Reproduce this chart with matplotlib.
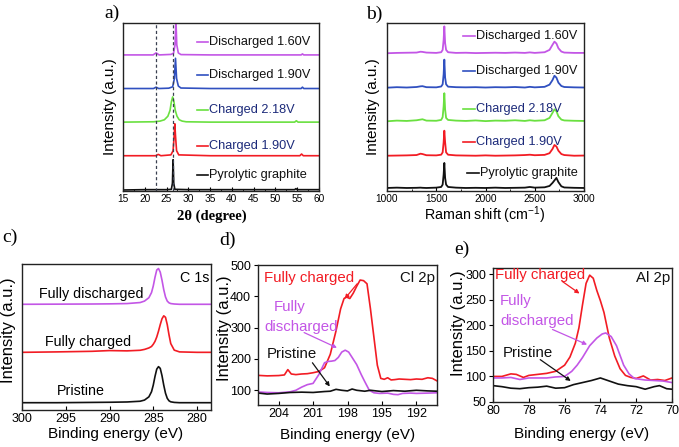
import numpy as np
import matplotlib
matplotlib.use("Agg")
from matplotlib import pyplot as plt

plt.rcParams['font.family'] = ['Liberation Sans', 'DejaVu Sans']
plt.rcParams['mathtext.fontset'] = 'custom'
plt.rcParams['mathtext.rm'] = 'Liberation Sans'

W, H = 679, 447

RED = "#f21c24"
VIOLET = "#c356e6"
BLUE = "#3050c0"
GREEN = "#6ae040"
BLACK = "#111111"
NAVY = "#1c2a7a"

# ---- a) XRD ----
xrd_labels = ["Pyrolytic graphite", "Charged 1.90V", "Charged 2.18V", "Discharged 1.90V", "Discharged 1.60V"]
xrd_pg_x = [15, 20, 25, 26.1, 26.35, 26.5, 26.65, 26.9, 30, 40, 54.4, 54.7, 55.0, 60]
xrd_pg_y = [0, 0.002, 0.002, 0.004, 0.04, 0.18, 0.04, 0.004, 0.002, 0.002, 0.002, 0.008, 0.002, 0.002]
xrd_c190_x = [15, 22.5, 23.1, 23.7, 26.0, 26.5, 26.75, 26.9, 27.05, 27.3, 27.8, 35, 55.6, 56.0, 56.4, 60]
xrd_c190_y = [0, 0, 0.008, 0, 0.005, 0.03, 0.12, 0.19, 0.12, 0.03, 0.005, 0, 0, 0.01, 0, 0]
xrd_c218_x = [15, 22, 23.5, 24.5, 25.3, 25.8, 26.1, 26.4, 26.7, 27.0, 27.4, 27.9, 28.6, 29.5, 35, 54.4, 54.8, 55.2, 60]
xrd_c218_y = [0, 0.002, 0.006, 0.014, 0.035, 0.07, 0.12, 0.15, 0.12, 0.07, 0.035, 0.014, 0.006, 0.002, 0, 0, 0.008, 0, 0]
xrd_d190_x = [15, 22.0, 22.6, 23.2, 25.5, 26.4, 26.8, 27.05, 27.3, 27.7, 28.3, 35, 55.9, 56.2, 56.5, 60]
xrd_d190_y = [0, 0, 0.008, 0, 0.002, 0.01, 0.06, 0.18, 0.06, 0.015, 0.003, 0, 0, 0.008, 0, 0]
xrd_d160_x = [15, 21.9, 22.6, 23.3, 26.0, 26.6, 26.95, 27.15, 27.35, 27.7, 28.3, 35, 55.9, 56.2, 56.5, 60]
xrd_d160_y = [0, 0, 0.012, 0, 0.003, 0.01, 0.06, 0.21, 0.06, 0.012, 0.002, 0, 0, 0.006, 0, 0]
xrd_dash = [22.6, 26.5]

# ---- b) Raman ----
raman_x = [1000, 1100, 1200, 1300, 1340, 1360, 1400, 1500, 1550, 1565, 1575, 1582, 1590, 1600, 1620, 1700,
           1800, 1900, 2000, 2100, 2200, 2300, 2400, 2450, 2500, 2600, 2650, 2680, 2700, 2720, 2740, 2770,
           2800, 2900, 3000]
raman_pg = [0, .002, 0, .001, .002, .001, 0, .002, .006, .02, .08, .149, .06, .02, .006, .002, 0, .001, 0,
            .002, 0, .001, .002, .006, .002, .004, .012, .03, .045, .06, .035, .01, .003, .001, 0]
raman_c190 = [0, .001, .002, .004, .012, .01, .003, .002, .006, .02, .08, .149, .08, .02, .006, .002, .001,
              0, .002, 0, .001, .002, .004, .006, .003, .005, .015, .04, .064, .055, .03, .01, .004, 0, .001]
raman_c218 = [0, .004, .002, .006, .01, .012, .004, .003, .008, .025, .09, .167, .07, .02, .008, .004, .002,
              .005, .001, .004, .003, .006, .002, .006, .003, .006, .02, .05, .071, .06, .03, .01, .005, .003, .002]
raman_d190 = [0, .003, .001, .004, .008, .009, .003, .002, .007, .02, .08, .167, .06, .02, .006, .003, .002,
              .003, .001, .003, .002, .004, .001, .005, .002, .005, .018, .045, .071, .06, .03, .01, .004, .002, .001]
raman_d160 = [0, .002, .003, .004, .009, .008, .004, .002, .006, .02, .08, .16, .06, .02, .006, .002, .003,
              .001, .002, .003, .002, .004, .002, .005, .002, .006, .02, .05, .069, .058, .03, .01, .004, .002, .002]

# ---- c) C 1s ----
c1s_x = [300, 296, 292, 290, 288, 286.5, 286, 285.5, 285.2, 285, 284.8, 284.6, 284.4, 284.2, 284.0, 283.8,
         283.6, 283.4, 283.2, 283.0, 282.6, 282, 280, 278]
c1s_pristine = [0, 0, 0.002, 0.003, 0.005, 0.01, 0.018, 0.04, 0.075, 0.12, 0.18, 0.23, 0.247, 0.235, 0.185,
                0.12, 0.065, 0.03, 0.013, 0.006, 0.002, 0, 0, 0]
c1s_charged = [0, 0.003, 0.007, 0.012, 0.01, 0.014, 0.02, 0.03, 0.04, 0.055, 0.075, 0.105, 0.145, 0.19, 0.23,
               0.25, 0.24, 0.19, 0.12, 0.06, 0.015, 0.003, 0, 0]
c1s_discharged = [0, 0.001, 0.002, 0.003, 0.005, 0.012, 0.022, 0.045, 0.08, 0.125, 0.185, 0.235, 0.245, 0.22,
                  0.165, 0.1, 0.05, 0.022, 0.01, 0.005, 0.002, 0, 0, 0]

# ---- d) Cl 2p ----
cl_ch_x = [206, 205, 204, 203.5, 203.2, 202.9, 202.5, 202, 201.5, 201, 200.5, 200, 199.5, 199, 198.6, 198.3,
           198.1, 197.8, 197.5, 197.2, 196.9, 196.6, 196.3, 196, 195.7, 195.4, 195.1, 194.8, 194.5, 194.2,
           193.9, 193.5, 193, 192.5, 192, 191.5, 191, 190.6, 190.2]
cl_ch_y = [148, 146, 147, 149, 166, 152, 150, 152, 153, 156, 160, 172, 215, 290, 360, 393, 398, 393, 410, 432,
           452, 450, 440, 360, 270, 180, 138, 135, 140, 133, 134, 136, 135, 134, 136, 135, 140, 138, 130]
cl_dis_x = [206, 205, 204, 203, 202.5, 202, 201.5, 201, 200.5, 200, 199.7, 199.4, 199.1, 198.8, 198.5, 198.2,
            197.9, 197.6, 197.2, 196.8, 196.5, 196.1, 195.7, 195.2, 194.5, 194, 193.6, 193.2, 192.5, 192, 191, 190.2]
cl_dis_y = [95, 93, 92, 95, 100, 110, 118, 122, 150, 188, 192, 193, 195, 205, 222, 228, 222, 205, 182, 150,
            128, 100, 92, 90, 91, 87, 86, 90, 91, 90, 91, 92]
cl_pr_x = [206, 205, 204, 203, 202, 201, 200, 199.5, 199, 198.5, 198, 197.6, 197.2, 196.5, 196, 195, 194, 193,
           192, 191, 190.2]
cl_pr_y = [92, 88, 90, 93, 94, 93, 96, 97, 103, 100, 98, 104, 100, 97, 100, 96, 99, 97, 100, 98, 97]

# ---- e) Al 2p ----
al_ch_x = [80, 79.5, 79.0, 78.7, 78.3, 78.0, 77.5, 77.0, 76.5, 76.0, 75.7, 75.4, 75.2, 75.0, 74.8, 74.6, 74.4,
           74.2, 74.0, 73.8, 73.5, 73.2, 72.9, 72.6, 72.3, 72.0, 71.6, 71.2, 70.8, 70.4, 70]
al_ch_y = [100, 100, 105, 104, 98, 102, 104, 106, 110, 122, 138, 165, 195, 240, 282, 298, 292, 268, 248, 225,
           175, 140, 115, 102, 98, 96, 101, 93, 94, 92, 97]
al_dis_x = [80, 79.5, 79, 78.5, 78, 77.5, 77, 76.5, 76, 75.6, 75.3, 75.0, 74.6, 74.2, 73.9, 73.7, 73.4, 73.1,
            72.7, 72.4, 72.1, 71.5, 71, 70.5, 70]
al_dis_y = [97, 97, 98, 94, 97, 97, 97, 99, 100, 110, 122, 137, 160, 175, 183, 185, 178, 160, 122, 105, 96, 93,
            92, 91, 88]
al_pr_x = [80, 79.5, 79, 78.5, 78, 77.5, 77, 76.5, 76, 75.5, 75, 74.5, 74, 73.5, 73, 72.5, 72, 71.5, 71, 70.7,
           70.3, 70]
al_pr_y = [82, 80, 77, 76, 78, 79, 81, 77, 78, 84, 88, 92, 97, 91, 85, 82, 80, 75, 80, 82, 76, 75]


def box(x0, y0, x1, y1):
    return [x0 / W, 1 - y1 / H, (x1 - x0) / W, (y1 - y0) / H]


def ftext(x, y, s, **kw):
    fig.text(x / W, 1 - y / H, s, ha='center', va='center', **kw)


def style(ax, size):
    for s in ax.spines.values():
        s.set_linewidth(1.0)
        s.set_color('#222222')
    ax.tick_params(labelsize=size, direction='in', length=3, width=0.8, pad=2)
    ax.tick_params(which='minor', direction='in', length=1.8, width=0.6)


def stack_label(ax, fx, fy, text, line_color, text_color, seg=0.06):
    ax.plot([fx, fx + seg], [fy, fy], color=line_color, lw=1.2, transform=ax.transAxes)
    ax.text(fx + seg + 0.005, fy, text, color=text_color, fontsize=9.2,
            ha='left', va='center', transform=ax.transAxes)


fig = plt.figure(figsize=(W / 100, H / 100), dpi=100)

# a)
ax = fig.add_axes(box(123, 23, 319, 191))
style(ax, 7.3)
offs = [0.006, 0.21, 0.41, 0.61, 0.81]
series = [(xrd_pg_x, xrd_pg_y, BLACK), (xrd_c190_x, xrd_c190_y, RED), (xrd_c218_x, xrd_c218_y, GREEN),
          (xrd_d190_x, xrd_d190_y, BLUE), (xrd_d160_x, xrd_d160_y, VIOLET)]
for (xs, ys, c), o in zip(series, offs):
    ax.plot(xs, np.array(ys) + o, color=c, lw=1.2)
for xd in xrd_dash:
    ax.axvline(xd, color='#3a4050', lw=0.9, ls=(0, (2.5, 2)))
ax.set_xlim(15, 60)
ax.set_ylim(0, 1)
ax.set_xticks(np.arange(15, 61, 5))
ax.set_xticks(np.arange(15, 61, 2.5), minor=True)
ax.set_yticks([])
lab_y = [0.095, 0.268, 0.48, 0.69, 0.885]
lab_tc = [BLACK, NAVY, NAVY, BLACK, BLACK]
for (xs, ys, c), t, fy, tc in zip(series, xrd_labels, lab_y, lab_tc):
    stack_label(ax, 0.375, fy, t, c, tc)

# b)
ax = fig.add_axes(box(387, 23, 584, 191))
style(ax, 7.3)
boffs = [0.018, 0.21, 0.415, 0.615, 0.82]
bseries = [(raman_pg, BLACK), (raman_c190, RED), (raman_c218, GREEN), (raman_d190, BLUE), (raman_d160, VIOLET)]
for (ys, c), o in zip(bseries, boffs):
    ax.plot(raman_x, np.array(ys) + o, color=c, lw=1.3)
ax.set_xlim(1000, 3000)
ax.set_ylim(0, 1)
ax.set_xticks([1000, 1500, 2000, 2500, 3000])
ax.set_xticks(np.arange(1000, 3001, 250), minor=True)
ax.set_yticks([])
blab_y = [0.11, 0.29, 0.49, 0.715, 0.925]
blab_x = [0.405, 0.386, 0.386, 0.386, 0.386]
for (ys, c), t, fy, fx, tc in zip(bseries, xrd_labels, blab_y, blab_x, lab_tc):
    stack_label(ax, fx, fy, t, c, tc)

# c)
ax = fig.add_axes(box(22, 264, 211, 410))
style(ax, 9)
for ys, c, o in [(c1s_pristine, BLACK, 0.05), (c1s_charged, RED, 0.395), (c1s_discharged, VIOLET, 0.724)]:
    ax.plot(c1s_x, np.array(ys) + o, color=c, lw=1.2)
ax.set_xlim(300, 278.4)
ax.set_ylim(0, 1)
ax.set_xticks([300, 295, 290, 285, 280])
ax.set_yticks([])
ax.text(0.092, 0.795, "Fully discharged", fontsize=10.3, ha='left', va='center', transform=ax.transAxes)
ax.text(0.122, 0.468, "Fully charged", fontsize=10.3, ha='left', va='center', transform=ax.transAxes)
ax.text(0.184, 0.132, "Pristine", fontsize=10.3, ha='left', va='center', transform=ax.transAxes)
ax.text(0.99, 0.902, "C 1s", fontsize=10.3, ha='right', va='center', transform=ax.transAxes)

# d)
ax = fig.add_axes(box(258, 265, 437, 405))
style(ax, 9)
ax.tick_params(axis='y', direction='out')
ax.plot(cl_ch_x, cl_ch_y, color=RED, lw=1.2)
ax.plot(cl_dis_x, cl_dis_y, color=VIOLET, lw=1.2)
ax.plot(cl_pr_x, cl_pr_y, color=BLACK, lw=1.2)
ax.set_xlim(205.8, 190.2)
ax.set_ylim(53, 500)
ax.set_xticks([204, 201, 198, 195, 192])
ax.set_yticks([100, 200, 300, 400, 500])
ax.text(205.25, 459, "Fully charged", color=RED, fontsize=10.8, ha='left', va='center')
ax.text(204.4, 366, "Fully", color=VIOLET, fontsize=10.8, ha='left', va='center')
ax.text(205.25, 303, "discharged", color=VIOLET, fontsize=10.8, ha='left', va='center')
ax.text(205.0, 217, "Pristine", color=BLACK, fontsize=10.8, ha='left', va='center')
ax.text(190.4, 459, "Cl 2p", color=BLACK, fontsize=10.8, ha='right', va='center')
for (x0, y0, x1, y1, c) in [(197.0, 447, 198.4, 385, RED), (202.0, 288, 198.7, 232, VIOLET),
                            (201.2, 195, 199.4, 105, BLACK)]:
    ax.annotate("", xy=(x1, y1), xytext=(x0, y0),
                arrowprops=dict(arrowstyle='-|>', color=c, lw=0.9, mutation_scale=6))

# e)
ax = fig.add_axes(box(493, 268, 672, 402))
style(ax, 9)
ax.tick_params(axis='y', direction='out')
ax.plot(al_ch_x, al_ch_y, color=RED, lw=1.2)
ax.plot(al_dis_x, al_dis_y, color=VIOLET, lw=1.2)
ax.plot(al_pr_x, al_pr_y, color=BLACK, lw=1.2)
ax.set_xlim(80, 70)
ax.set_ylim(50, 312)
ax.set_xticks([80, 78, 76, 74, 72, 70])
ax.set_yticks([50, 100, 150, 200, 250, 300])
ax.text(79.9, 299, "Fully charged", color=RED, fontsize=10.8, ha='left', va='center')
ax.text(79.6, 248, "Fully", color=VIOLET, fontsize=10.8, ha='left', va='center')
ax.text(79.6, 209, "discharged", color=VIOLET, fontsize=10.8, ha='left', va='center')
ax.text(79.45, 146, "Pristine", color=BLACK, fontsize=10.8, ha='left', va='center')
ax.text(70.1, 293, "Al 2p", color=BLACK, fontsize=10.8, ha='right', va='center')
for (x0, y0, x1, y1, c) in [(76.26, 289, 75.04, 259, RED), (76.82, 194, 74.6, 160, VIOLET),
                            (77.49, 136, 75.53, 88, BLACK)]:
    ax.annotate("", xy=(x1, y1), xytext=(x0, y0),
                arrowprops=dict(arrowstyle='-|>', color=c, lw=0.9, mutation_scale=6))

# axis labels and panel letters
ftext(212, 216, "2θ (degree)", fontsize=10.5, fontweight='bold', family=['Liberation Serif', 'DejaVu Serif'])
ftext(110, 107, "Intensity (a.u.)", fontsize=11, rotation=90)
ftext(485, 215, "Raman shift (cm$^{-1}$)", fontsize=10.3)
ftext(373, 107, "Intensity (a.u.)", fontsize=11, rotation=90)
ftext(116, 434, "Binding energy (eV)", fontsize=11)
ftext(9, 330, "Intensity (a.u.)", fontsize=12, rotation=90)
ftext(348, 435, "Binding energy (eV)", fontsize=11)
ftext(224, 328, "Intensity (a.u.)", fontsize=12, rotation=90)
ftext(582, 434, "Binding energy (eV)", fontsize=11)
ftext(459, 323, "Intensity (a.u.)", fontsize=12, rotation=90)

serif = ['Liberation Serif', 'DejaVu Serif']
for (px, py, s) in [(112, 13, "a)"), (374, 14, "b)"), (10, 237, "c)"), (228, 240, "d)"), (462, 249, "e)")]:
    ftext(px, py, s, fontsize=14, family=serif)

fig.savefig("out.png", dpi=100)
